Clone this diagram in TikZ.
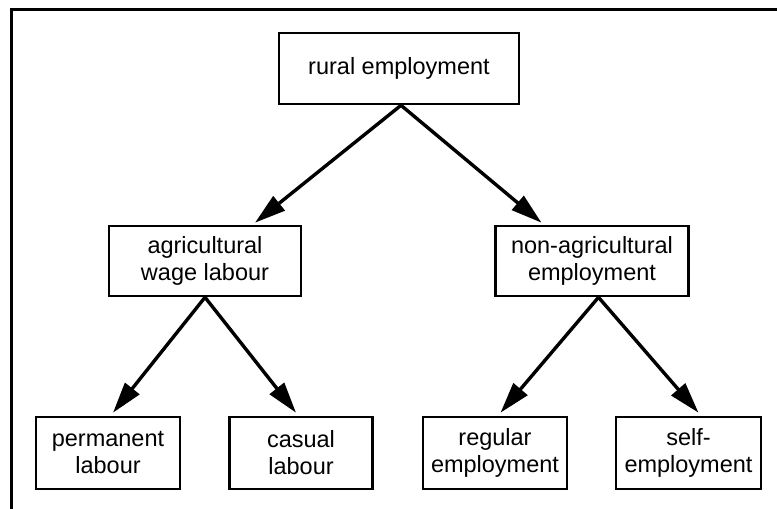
\documentclass[tikz,border=0pt]{standalone}
\usepackage{fontspec}
\setmainfont{Liberation Sans}
\usetikzlibrary{arrows.meta}
\tikzset{
  box/.style={draw, line width=2.6pt, inner sep=0pt, align=center,
    font=\fontsize{23.5}{27}\selectfont},
  conn/.style={line width=3.4pt, -{Triangle[length=31pt,width=18pt]}},
  frame/.style={line width=2.8pt}
}
\begin{document}
\begin{tikzpicture}[x=1pt,y=-1pt]
\useasboundingbox (0,0) rectangle (777,509);
\draw[frame] (777,9.5) -- (11.5,9.5) -- (11.5,509);

\node[box, minimum width=240pt, minimum height=71pt] (rural) at (399,68.5) {rural employment};
\node[box, minimum width=192pt, minimum height=70pt] (agri) at (205,261) {agricultural\\wage labour};
\node[box, minimum width=193pt, minimum height=70pt] (nonag) at (592,261) {non-agricultural\\employment};
\node[box, minimum width=144pt, minimum height=72pt] (perm) at (108,453) {permanent\\labour};
\node[box, minimum width=143pt, minimum height=72pt] (casual) at (301,453) {casual\\labour};
\node[box, minimum width=144pt, minimum height=72pt] (regular) at (495,453) {regular\\employment};
\node[box, minimum width=145pt, minimum height=72pt] (self) at (688.5,453) {self-\\employment};

\draw[conn] ([xshift=2pt]rural.south) -- ([xshift=50pt,yshift=2pt]agri.north);
\draw[conn] ([xshift=2pt]rural.south) -- ([xshift=-50.5pt,yshift=2pt]nonag.north);
\draw[conn] (agri.south) -- ([xshift=5pt,yshift=3pt]perm.north);
\draw[conn] (agri.south) -- ([xshift=-5pt,yshift=3pt]casual.north);
\draw[conn] ([xshift=6.5pt]nonag.south) -- ([xshift=5.5pt,yshift=3pt]regular.north);
\draw[conn] ([xshift=6.5pt]nonag.south) -- ([xshift=10pt,yshift=3pt]self.north);
\end{tikzpicture}
\end{document}
